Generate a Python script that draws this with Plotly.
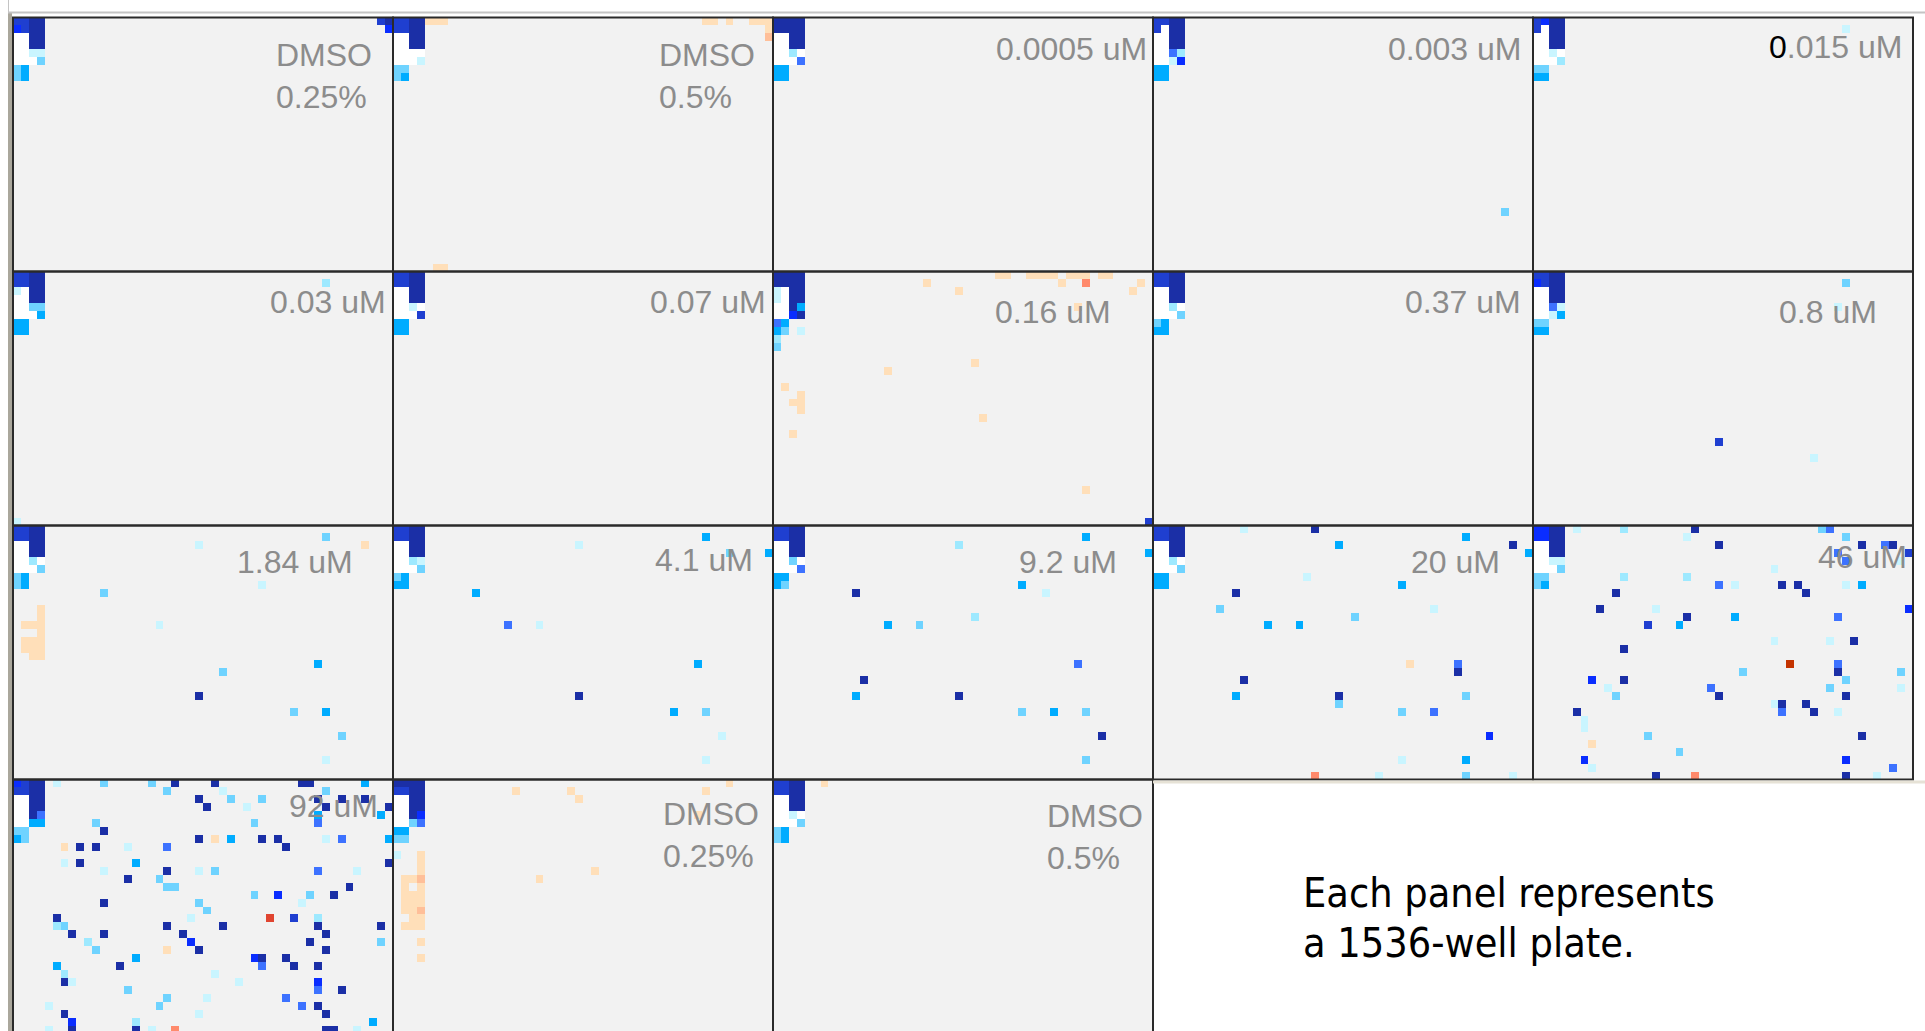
import numpy as np
import plotly.graph_objects as go

# ---------------------------------------------------------------------------
# 1536-well plate layout: 32 rows x 48 columns, one heatmap per plate
# ---------------------------------------------------------------------------
N_ROWS, N_COLS = 32, 48

PANEL_LABELS = [
    "DMSO<br>0.25%", "DMSO<br>0.5%", "0.0005 uM", "0.003 uM",
    "<span style='color:#000000'>0</span>.015 uM",
    "0.03 uM", "0.07 uM", "0.16 uM", "0.37 uM", "0.8 uM",
    "1.84 uM", "4.1 uM", "9.2 uM", "20 uM", "46 uM",
    "92 uM", "DMSO<br>0.25%", "DMSO<br>0.5%",
]

NOTE_LINES = ["Each panel represents", "a 1536-well plate."]

# control block shared by every plate (row, col, % activity)
CONTROL_WELLS = [
    (0, 0, -94), (0, 1, -96), (1, 0, -93), (1, 1, -97),
    (0, 2, -100), (0, 3, -100), (1, 2, -100), (1, 3, -100),
    (2, 2, -100), (2, 3, -100), (3, 2, -100), (3, 3, -100),
]
# wells without a reading (drawn blank)
NO_READ_WELLS = [
    (2, 0), (2, 1), (3, 0), (3, 1), (4, 0), (4, 1), (5, 0), (5, 1),
    (4, 2), (4, 3), (5, 2), (5, 3),
]

# per-plate wells (row, col, % activity); None = no reading
PLATE_01 = [
    (1, 0, -80), (4, 2, -15), (4, 3, -15), (5, 3, -35), (6, 0, -35), (6, 1, -50),
    (7, 0, -35), (7, 1, -50), (0, 46, -90), (0, 47, -100), (1, 47, -80),
]
PLATE_02 = [
    (5, 3, -15), (6, 0, -35), (6, 1, -35), (7, 0, -35), (7, 1, -50),
    (0, 4, 14), (0, 5, 14), (0, 6, 13), (0, 39, 14), (0, 40, 13), (0, 42, 14),
    (0, 45, 15), (0, 46, 16), (0, 47, 15), (1, 47, 16), (2, 47, 28),
    (31, 5, 14), (31, 6, 13),
]
PLATE_03 = [
    (0, 0, -100), (0, 1, -100), (1, 0, -100), (1, 1, -100), (4, 2, -28), (5, 3, -66),
    (6, 0, -50), (6, 1, -50), (7, 0, -50), (7, 1, -50),
]
PLATE_04 = [
    (1, 1, None), (4, 2, -66), (4, 3, -24), (5, 2, -16), (5, 3, -80),
    (6, 0, -50), (6, 1, -50), (7, 0, -50), (7, 1, -50), (24, 44, -36),
]
PLATE_05 = [
    (0, 1, -80), (1, 1, None), (4, 2, -15), (5, 3, -24), (6, 0, -36), (6, 1, -36),
    (7, 0, -50), (7, 1, -50), (1, 39, -16),
]
PLATE_06 = [
    (2, 0, -15), (4, 2, -35), (4, 3, -35), (5, 3, -50), (6, 0, -50), (6, 1, -50),
    (7, 0, -50), (7, 1, -50), (1, 39, -24), (31, 0, -15),
]
PLATE_07 = [
    (4, 2, -15), (5, 3, -90), (6, 0, -50), (6, 1, -50), (7, 0, -50), (7, 1, -50),
]
PLATE_08 = [
    (0, 0, -100), (0, 1, -100), (1, 0, -100), (1, 1, -100), (2, 0, -15), (3, 0, -15),
    (4, 2, -100), (4, 3, -50), (5, 2, -82), (5, 3, -100),
    (6, 0, -65), (6, 1, -50), (7, 0, -50), (7, 1, -35), (7, 3, -15), (8, 0, -25), (9, 0, -35),
    (0, 28, 14), (0, 29, 14), (0, 32, 13), (0, 33, 14), (0, 34, 14), (0, 35, 13),
    (0, 37, 14), (0, 38, 15), (0, 39, 14), (0, 41, 14), (0, 42, 13),
    (1, 19, 14), (1, 36, 15), (1, 39, 45), (1, 46, 15), (2, 23, 14), (2, 45, 15), (4, 38, 14),
    (11, 25, 14), (12, 14, 14), (14, 1, 13), (15, 3, 14), (16, 2, 14), (16, 3, 15),
    (17, 3, 14), (18, 26, 14), (20, 2, 13), (27, 39, 14), (31, 47, -90),
]
PLATE_09 = [
    (4, 2, -25), (5, 3, -35), (6, 0, -35), (6, 1, -50), (7, 0, -50), (7, 1, -50),
]
PLATE_10 = [
    (1, 0, -80), (4, 2, -65), (4, 3, -15), (5, 2, -15), (5, 3, -50), (6, 0, -35),
    (6, 1, -35), (7, 0, -50), (7, 1, -50), (1, 39, -35), (4, 38, -15),
    (21, 23, -94), (23, 35, -15),
]
PLATE_11 = [
    (4, 2, -25), (5, 3, -35), (6, 0, -35), (6, 1, -50), (7, 0, -35), (7, 1, -50),
    (1, 39, -35), (2, 23, -15), (2, 44, 14), (7, 31, -15), (8, 11, -35), (12, 18, -15),
    (17, 38, -50), (18, 26, -35), (21, 23, -100), (23, 35, -35), (23, 39, -50),
    (26, 41, -35), (29, 39, -15),
    (10, 3, 14), (11, 3, 14), (12, 1, 13), (12, 2, 14), (12, 3, 15), (13, 3, 14),
    (14, 1, 14), (14, 2, 13), (14, 3, 14), (15, 1, 14), (15, 2, 14), (15, 3, 13),
    (16, 2, 14), (16, 3, 14),
]
PLATE_12 = [
    (4, 2, -25), (4, 3, -15), (5, 3, -35), (6, 0, -35), (6, 1, -50), (7, 0, -50), (7, 1, -50),
    (1, 39, -50), (2, 23, -15), (3, 42, -35), (3, 47, -50), (8, 10, -50), (12, 14, -65),
    (12, 18, -15), (17, 38, -50), (21, 23, -100), (23, 35, -50), (23, 39, -35),
    (26, 41, -15), (29, 39, -15),
]
PLATE_13 = [
    (4, 2, -35), (5, 3, -65), (6, 0, -50), (6, 1, -50), (7, 0, -50), (7, 1, -35),
    (1, 39, -50), (2, 23, -25), (3, 47, -50), (7, 31, -50), (8, 10, -100), (8, 34, -15),
    (11, 25, -25), (12, 14, -50), (12, 18, -35), (17, 38, -65), (19, 11, -100),
    (21, 10, -50), (21, 23, -100), (23, 31, -35), (23, 35, -50), (23, 39, -35),
    (26, 41, -100), (29, 39, -35),
]
PLATE_14 = [
    (4, 2, -25), (5, 3, -35), (6, 0, -50), (6, 1, -50), (7, 0, -50), (7, 1, -50),
    (0, 11, -15), (0, 20, -100), (1, 39, -50), (2, 23, -50), (2, 45, -100), (3, 47, -50),
    (6, 19, -15), (7, 31, -50), (8, 10, -100), (10, 8, -35), (10, 35, -15), (11, 25, -35),
    (12, 14, -50), (12, 18, -50), (17, 32, 14), (17, 38, -65), (18, 38, -100),
    (19, 11, -100), (21, 10, -50), (21, 23, -100), (21, 39, -35), (22, 23, -35),
    (23, 31, -35), (23, 35, -65), (26, 42, -80), (29, 31, -15), (29, 39, -50),
    (31, 20, 50), (31, 28, -15), (31, 39, -35), (31, 45, -15),
]
PLATE_15 = [
    (0, 0, -80), (0, 1, -80), (1, 0, -80), (1, 1, -80), (4, 2, -15), (4, 3, -15),
    (5, 3, -35), (6, 0, -35), (6, 1, -35), (7, 0, -35), (7, 1, -50),
    (0, 5, -15), (0, 11, -25), (0, 20, -100), (0, 36, -35), (0, 37, -65),
    (1, 19, -15), (1, 39, -35),
    (2, 23, -100), (2, 41, -100), (2, 44, -65), (2, 45, -100),
    (3, 38, -65), (3, 47, -90), (4, 39, -65), (4, 46, -15), (5, 30, -15),
    (6, 11, -25), (6, 19, -25),
    (7, 23, -65), (7, 25, -15), (7, 31, -100), (7, 33, -100), (7, 39, -15), (7, 41, -50),
    (8, 10, -100), (8, 34, -100),
    (10, 8, -100), (10, 15, -15), (10, 47, -80),
    (11, 19, -100), (11, 25, -50), (11, 38, -65),
    (12, 14, -94), (12, 18, -50),
    (14, 30, -15), (14, 37, -15), (14, 40, -100), (15, 11, -100),
    (17, 32, 95), (17, 38, -65),
    (18, 26, -35), (18, 38, -100), (18, 46, -35),
    (19, 7, -80), (19, 11, -100), (19, 39, -35),
    (20, 9, -15), (20, 22, -65), (20, 37, -35), (20, 46, -15),
    (21, 10, -35), (21, 23, -100), (21, 39, -100),
    (22, 30, -15), (22, 31, -100), (22, 34, -100),
    (23, 5, -100), (23, 31, -65), (23, 35, -100), (23, 38, -15),
    (24, 6, -15), (25, 6, -15), (26, 14, -35), (26, 41, -100), (27, 7, 14), (28, 18, -35),
    (29, 6, -80), (29, 39, -80), (30, 7, -15), (30, 45, -65),
    (31, 15, -100), (31, 20, 50), (31, 39, -100), (31, 43, -15),
]
PLATE_16 = [
    (0, 0, -80), (0, 1, -90), (1, 0, -90), (1, 1, -95), (4, 2, -100), (4, 3, -65),
    (5, 2, -50), (5, 3, -50), (6, 0, -35), (6, 1, -35), (7, 0, -50), (7, 1, -35),
    (0, 5, -15), (0, 11, -35), (0, 17, -35), (0, 20, -100), (0, 25, -100), (0, 36, -100),
    (0, 37, -100), (0, 44, -50),
    (1, 19, -35), (1, 26, -15), (1, 39, -35),
    (2, 23, -100), (2, 27, -35), (2, 31, -35), (2, 38, -100), (2, 41, -100), (2, 44, -100),
    (3, 24, -100), (3, 29, -15), (3, 39, -100), (3, 47, -100),
    (4, 38, -50), (4, 46, -50),
    (5, 10, -35), (5, 30, -35), (5, 38, -65),
    (6, 11, -100),
    (7, 23, -100), (7, 25, 14), (7, 27, -50), (7, 31, -100), (7, 33, -100), (7, 39, -15),
    (7, 41, -65), (7, 47, -50),
    (8, 6, 14), (8, 8, -100), (8, 10, -100), (8, 14, -15), (8, 19, -65), (8, 34, -100),
    (10, 6, -15), (10, 8, -100), (10, 15, -50), (10, 47, -100),
    (11, 11, -15), (11, 19, -100), (11, 23, -15), (11, 25, -35), (11, 38, -65), (11, 43, -15),
    (12, 14, -100), (12, 18, -35),
    (13, 19, -35), (13, 20, -35), (13, 42, -100),
    (14, 30, -35), (14, 33, -80), (14, 37, -35), (14, 40, -100),
    (15, 11, -100), (15, 23, -35), (15, 36, -15),
    (16, 24, -35),
    (17, 5, -100), (17, 22, -15), (17, 32, 75), (17, 35, -94), (17, 38, -25),
    (18, 5, -25), (18, 6, -35), (18, 19, -100), (18, 26, -100), (18, 38, -100), (18, 46, -100),
    (19, 7, -100), (19, 11, -100), (19, 21, -100), (19, 39, -100),
    (20, 9, -25), (20, 22, -80), (20, 37, -100), (20, 46, -35),
    (21, 10, -35), (21, 19, 14), (21, 23, -100), (21, 39, -100),
    (22, 15, -50), (22, 30, -80), (22, 31, -100), (22, 34, -100),
    (23, 5, -50), (23, 13, -100), (23, 31, -65), (23, 35, -100), (23, 38, -100),
    (24, 6, -25), (24, 25, -15),
    (25, 6, -100), (25, 7, -15), (25, 28, -15), (25, 38, -80),
    (26, 14, -35), (26, 38, -65), (26, 41, -100),
    (27, 19, -35), (27, 24, -15), (27, 34, -65),
    (28, 4, -15), (28, 18, -35), (28, 36, -65), (28, 38, -100),
    (29, 6, -100), (29, 23, -15), (29, 39, -100),
    (30, 7, -80), (30, 15, -25), (30, 45, -50),
    (31, 4, -15), (31, 7, -100), (31, 15, -100), (31, 17, -15), (31, 20, 45),
    (31, 39, -100), (31, 40, -100), (31, 43, -15),
]
PLATE_17 = [
    (0, 0, -100), (0, 1, -100), (1, 0, -94), (1, 1, -94), (4, 2, -100), (4, 3, -80),
    (5, 2, -35), (5, 3, -65), (6, 0, -50), (6, 1, -50), (7, 0, -35), (7, 1, -35), (9, 0, -15),
    (0, 42, 14), (1, 15, 14), (1, 22, 14), (2, 23, 14), (1, 39, 14), (4, 38, 14),
    (11, 25, 14), (12, 18, 14),
    (9, 3, 14), (10, 3, 14), (11, 3, 15), (12, 3, 30), (13, 3, 14), (14, 3, 14),
    (15, 3, 15), (16, 3, 30), (17, 3, 14), (18, 3, 14),
    (12, 2, 14), (14, 2, 13), (15, 2, 14), (16, 2, 14), (17, 2, 13), (18, 2, 14),
    (12, 1, 13), (13, 1, 14), (14, 1, 14), (15, 1, 13), (16, 1, 14), (18, 1, 13),
    (20, 3, 14), (22, 3, 14),
]
PLATE_18 = [
    (4, 2, -15), (5, 3, -35), (6, 0, -35), (6, 1, -50), (7, 0, -35), (7, 1, -50), (0, 6, 14),
]

PLATES = [
    PLATE_01, PLATE_02, PLATE_03, PLATE_04, PLATE_05, PLATE_06, PLATE_07, PLATE_08, PLATE_09,
    PLATE_10, PLATE_11, PLATE_12, PLATE_13, PLATE_14, PLATE_15, PLATE_16, PLATE_17, PLATE_18,
]

# stepped diverging colour scale for % activity
BIN_EDGES = [-110, -97, -85, -72, -57, -42, -30, -20, -10, 10, 22, 40, 62, 85, 110]
BIN_COLORS = [
    "#1b2fa6", "#1f3fd0", "#0a2dff", "#3d72ff", "#00acff", "#6fd3ff", "#9ee9ff",
    "#c9f5ff", "#f2f2f2", "#ffdfb9", "#ffbf99", "#ff8a6c", "#e04530", "#c43300",
]


def stepped_scale(edges, colors):
    lo, hi = edges[0], edges[-1]
    scale = []
    for i, col in enumerate(colors):
        scale.append([(edges[i] - lo) / (hi - lo), col])
        scale.append([(edges[i + 1] - lo) / (hi - lo), col])
    return scale


def plate_matrix(wells):
    z = np.zeros((N_ROWS, N_COLS))
    for r, c in NO_READ_WELLS:
        z[r, c] = np.nan
    for r, c, v in CONTROL_WELLS + wells:
        z[r, c] = np.nan if v is None else v
    return z


# ---------------------------------------------------------------------------
# page geometry (pixels)
# ---------------------------------------------------------------------------
W, H = 1925, 1031
X0, Y0 = 13.0, 17.5
PANEL_W, PANEL_H = 380.0, 254.0
N_GRID_COLS = 5

colorscale = stepped_scale(BIN_EDGES, BIN_COLORS)
fig = go.Figure()
layout = {}
shapes = []
annotations = []

# label placement: (x px, y px centre, anchor)
label_pos = [
    (274, 76, "left"), (657, 76, "left"), (1149, 49, "right"), (1523, 49, "right"), (1904, 47, "right"),
    (388, 302, "right"), (768, 302, "right"), (1113, 312, "right"), (1523, 302, "right"), (1879, 312, "right"),
    (355, 562, "right"), (755, 560, "right"), (1119, 562, "right"), (1502, 562, "right"), (1909, 557, "right"),
    (380, 806, "right"), (661, 835, "left"), (1045, 837, "left"),
]

for i, wells in enumerate(PLATES):
    gr, gc = divmod(i, N_GRID_COLS)
    left = X0 + gc * PANEL_W
    right = left + PANEL_W
    top = Y0 + gr * PANEL_H
    bottom = top + PANEL_H
    if bottom > H:
        visible_rows = (H - top) / PANEL_H * N_ROWS
        yrange = [-0.5 + visible_rows, -0.5]
        ydom = [0.0, 1 - top / H]
    else:
        yrange = [N_ROWS - 0.5, -0.5]
        ydom = [1 - bottom / H, 1 - top / H]

    suffix = "" if i == 0 else str(i + 1)
    fig.add_trace(go.Heatmap(
        z=plate_matrix(wells),
        x=list(range(N_COLS)), y=list(range(N_ROWS)),
        colorscale=colorscale, zmin=BIN_EDGES[0], zmax=BIN_EDGES[-1],
        showscale=False, hoverongaps=False,
        xaxis="x" + suffix, yaxis="y" + suffix,
    ))
    axis_common = dict(showgrid=False, zeroline=False, showticklabels=False, ticks="",
                       showline=False, fixedrange=True)
    layout["xaxis" + suffix] = dict(domain=[left / W, right / W], range=[-0.5, N_COLS - 0.5],
                                    anchor="y" + suffix, **axis_common)
    layout["yaxis" + suffix] = dict(domain=ydom, range=yrange, anchor="x" + suffix, **axis_common)

    shapes.append(dict(type="rect", xref="paper", yref="paper",
                       x0=left / W, x1=right / W, y0=1 - bottom / H, y1=1 - top / H,
                       line=dict(color="#2a2a2a", width=2)))

    lx, ly, anchor = label_pos[i]
    annotations.append(dict(
        text=PANEL_LABELS[i], xref="paper", yref="paper", x=lx / W, y=1 - ly / H,
        xanchor=anchor, yanchor="middle", align=anchor, showarrow=False,
        font=dict(family="Liberation Sans, Arial, sans-serif", size=32, color="#8c8c8c"),
    ))

# note in the empty corner of the grid
for k, (line, yc) in enumerate(zip(NOTE_LINES, [893, 943])):
    annotations.append(dict(
        text=line, xref="paper", yref="paper", x=1301 / W, y=1 - yc / H,
        xanchor="left", yanchor="middle", align="left", showarrow=False,
        font=dict(family="DejaVu Sans Condensed, DejaVu Sans, sans-serif", size=41, color="#000000"),
    ))

# window frame details around the grid
shapes.append(dict(type="rect", xref="paper", yref="paper", x0=8 / W, x1=12 / W,
                   y0=0, y1=1 - 13 / H, fillcolor="#aaa79c", line=dict(width=0), layer="below"))
shapes.append(dict(type="line", xref="paper", yref="paper", x0=8 / W, x1=1, y0=1 - 12.5 / H,
                   y1=1 - 12.5 / H, line=dict(color="#c4c4c4", width=2)))
shapes.append(dict(type="line", xref="paper", yref="paper", x0=8.5 / W, x1=8.5 / W, y0=1 - 13 / H,
                   y1=1, line=dict(color="#c4c4c4", width=1)))
shapes.append(dict(type="rect", xref="paper", yref="paper", x0=(X0 + 3 * PANEL_W) / W,
                   x1=(X0 + 5 * PANEL_W + 12) / W, y0=1 - 783.5 / H, y1=1 - 780.5 / H,
                   fillcolor="#e6e2d6", line=dict(width=0)))

fig.update_layout(
    width=W, height=H, margin=dict(l=0, r=0, t=0, b=0),
    paper_bgcolor="#ffffff", plot_bgcolor="#ffffff",
    shapes=shapes, annotations=annotations, showlegend=False,
    **layout,
)

fig.write_html("out.html", config={"displayModeBar": False})
